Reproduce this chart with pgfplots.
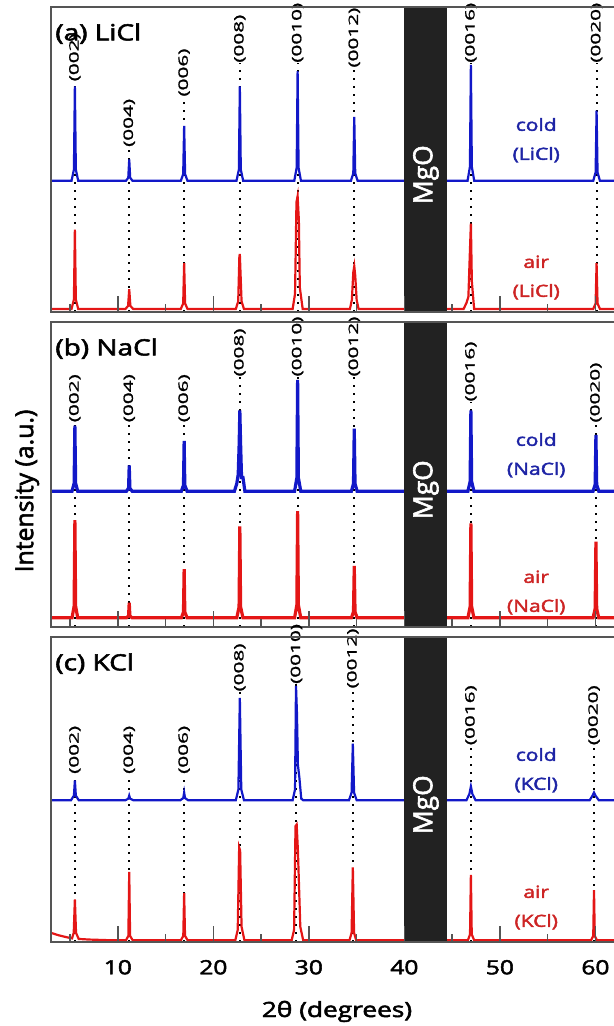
\documentclass[border=0pt]{standalone}
\usepackage{fontspec}
\setmainfont{Open Sans}[FakeBold=2.2]
\newfontfamily\plain{Open Sans}[FakeBold=1.2]
\usepackage{pgfplots}
\pgfplotsset{compat=1.18}
\definecolor{cblue}{RGB}{18,24,200}
\definecolor{cred}{RGB}{228,22,22}
\definecolor{tblue}{RGB}{30,36,165}
\definecolor{tred}{RGB}{205,36,36}
\definecolor{mgo}{RGB}{34,34,34}
\definecolor{frame}{RGB}{85,85,85}
\newcommand\wide[1]{\scalebox{1.25}[1]{#1}}
% dotted guide + rotated (00l) label
\newcommand\plab[3]{%
  \draw[black, line width=1pt, dash pattern=on 1.1pt off 2.9pt] (axis cs:#1,0) -- (axis cs:#1,#2);
  \node[rotate=90, anchor=west, inner sep=0pt, font=\plain\fontsize{6.5}{7}\selectfont] at (axis cs:#1,#2) {\scalebox{1.6}[1]{#3}};}
\newcommand\mgoband{%
  \fill[mgo] (axis cs:40,0) rectangle (axis cs:44.5,1);
  \node[rotate=90, text=white, font=\fontsize{13.2}{14}\selectfont] at (axis cs:42.25,0.45) {MgO};}
\newcommand\tags[2]{%
  \node[tblue, align=center, font=\fontsize{8.4}{14.5}\selectfont] at (axis cs:53.8,0.563) {\wide{cold}\\\wide{(#1)}};
  \node[tred, align=center, font=\fontsize{8.4}{14.5}\selectfont] at (axis cs:53.8,0.113) {\wide{air}\\\wide{(#1)}};
  \node[anchor=north west, inner sep=0pt, xshift=2pt, yshift=-8pt, font=\fontsize{11.2}{13}\selectfont] at (rel axis cs:0,1) {\wide{#2}};}

\pgfplotsset{xrd/.style={
  scale only axis, width=283.2pt, height=152.5pt,
  xmin=3, xmax=62.3, ymin=0, ymax=1,
  xtick={10,20,...,60}, minor xtick={5,15,...,55}, xtick pos=left, ytick=\empty,
  major tick length=8pt, minor tick length=4pt, tick align=inside,
  every tick/.append style={frame, line width=0.7pt},
  axis line style={frame, line width=0.8pt},
  axis on top, clip=false, anchor=south west,
  xticklabels=\empty,
}}

\begin{document}
\begin{tikzpicture}
% ---------------- (a) LiCl
\begin{axis}[xrd, at={(25.5pt,357pt)}]
\plab{5.50}{0.755}{(002)}
\plab{11.19}{0.54}{(004)}
\plab{16.94}{0.705}{(006)}
\plab{22.77}{0.816}{(008)}
\plab{28.82}{0.816}{(0010)}
\plab{34.75}{0.80}{(0012)}
\plab{46.96}{0.816}{(0016)}
\plab{60.12}{0.816}{(0020)}
\addplot[cblue, line width=1.1pt] coordinates {
(3,0.43) (5.15,0.43) (5.40,0.467) (5.50,0.74) (5.60,0.467) (5.85,0.43)
(10.84,0.43) (11.09,0.44) (11.19,0.50) (11.29,0.44) (11.54,0.43)
(16.59,0.43) (16.84,0.452) (16.94,0.61) (17.04,0.452) (17.29,0.43)
(22.42,0.43) (22.67,0.467) (22.77,0.74) (22.87,0.467) (23.12,0.43)
(28.47,0.43) (28.72,0.473) (28.82,0.79) (28.92,0.473) (29.17,0.43)
(34.40,0.43) (34.65,0.455) (34.75,0.64) (34.85,0.455) (35.10,0.43)
(46.61,0.43) (46.86,0.476) (46.96,0.81) (47.06,0.476) (47.31,0.43)
(59.77,0.43) (60.02,0.458) (60.12,0.66) (60.22,0.458) (60.47,0.43) (62.3,0.43)};
\addplot[cred, line width=1.1pt] coordinates {
(3,0.01) (5.15,0.01) (5.40,0.041) (5.50,0.27) (5.60,0.041) (5.85,0.01)
(10.8,0.01) (11.07,0.02) (11.19,0.075) (11.31,0.02) (11.6,0.01)
(16.59,0.01) (16.84,0.028) (16.94,0.16) (17.04,0.028) (17.29,0.01)
(22.35,0.01) (22.6,0.035) (22.72,0.18) (22.77,0.19) (22.85,0.12) (22.95,0.035) (23.2,0.01)
(28.3,0.01) (28.55,0.06) (28.7,0.36) (28.82,0.38) (28.95,0.30) (29.05,0.08) (29.35,0.01)
(34.3,0.01) (34.5,0.04) (34.65,0.13) (34.75,0.15) (34.85,0.12) (35.0,0.04) (35.2,0.01)
(46.2,0.01) (46.5,0.03) (46.7,0.05) (46.86,0.2) (46.96,0.29) (47.06,0.1) (47.3,0.01)
(59.77,0.01) (60.02,0.028) (60.12,0.16) (60.22,0.028) (60.47,0.01) (62.3,0.01)};
\mgoband
\tags{LiCl}{(a) LiCl}
\end{axis}
% ---------------- (b) NaCl
\begin{axis}[xrd, at={(25.5pt,199.5pt)}]
\plab{5.50}{0.67}{(002)}
\plab{11.19}{0.67}{(004)}
\plab{16.94}{0.67}{(006)}
\plab{22.77}{0.82}{(008)}
\plab{28.82}{0.82}{(0010)}
\plab{34.75}{0.82}{(0012)}
\plab{46.96}{0.738}{(0016)}
\plab{60.05}{0.669}{(0020)}
\addplot[cblue, line width=1.6pt] coordinates {
(3,0.445) (5.2,0.445) (5.42,0.471) (5.50,0.66) (5.58,0.471) (5.8,0.445)
(10.9,0.445) (11.12,0.455) (11.19,0.53) (11.26,0.455) (11.5,0.445)
(16.65,0.445) (16.87,0.465) (16.94,0.61) (17.01,0.465) (17.25,0.445)
(22.2,0.445) (22.45,0.47) (22.6,0.5) (22.7,0.6) (22.77,0.71) (22.85,0.6) (22.95,0.49) (23.1,0.49) (23.3,0.445)
(28.5,0.445) (28.74,0.489) (28.82,0.81) (28.9,0.489) (29.15,0.445)
(34.45,0.445) (34.67,0.47) (34.75,0.65) (34.83,0.47) (35.05,0.445)
(46.65,0.445) (46.88,0.477) (46.96,0.71) (47.04,0.477) (47.28,0.445)
(59.75,0.445) (59.97,0.467) (60.05,0.63) (60.13,0.467) (60.35,0.445) (62.3,0.445)};
\addplot[cred, line width=1.6pt] coordinates {
(3,0.03) (5.2,0.03) (5.42,0.068) (5.50,0.35) (5.58,0.068) (5.8,0.03)
(10.9,0.03) (11.12,0.036) (11.19,0.08) (11.26,0.036) (11.5,0.03)
(16.65,0.03) (16.87,0.049) (16.94,0.19) (17.01,0.049) (17.25,0.03)
(22.45,0.03) (22.69,0.066) (22.77,0.33) (22.85,0.066) (23.1,0.03)
(28.5,0.03) (28.74,0.072) (28.82,0.38) (28.9,0.072) (29.15,0.03)
(34.45,0.03) (34.67,0.05) (34.75,0.20) (34.83,0.05) (35.05,0.03)
(46.65,0.03) (46.88,0.067) (46.96,0.34) (47.04,0.067) (47.28,0.03)
(59.75,0.03) (59.97,0.06) (60.05,0.28) (60.13,0.06) (60.35,0.03) (62.3,0.03)};
\mgoband
\tags{NaCl}{(b) NaCl}
\end{axis}
% ---------------- (c) KCl
\begin{axis}[xrd, at={(25.5pt,42pt)},
  xticklabels={\wide{10},\wide{20},\wide{30},\wide{40},\wide{50},\wide{60}},
  xticklabel style={font=\fontsize{9.8}{11}\selectfont, yshift=-5.5pt}]
\plab{5.50}{0.55}{(002)}
\plab{11.19}{0.55}{(004)}
\plab{16.94}{0.55}{(006)}
\plab{22.77}{0.82}{(008)}
\plab{28.70}{0.845}{(0010)}
\plab{34.60}{0.83}{(0012)}
\plab{46.96}{0.644}{(0016)}
\plab{59.85}{0.644}{(0020)}
\addplot[cblue, line width=1.1pt] coordinates {
(3,0.465) (5.1,0.465) (5.4,0.48) (5.5,0.53) (5.6,0.48) (5.9,0.465)
(10.8,0.465) (11.1,0.47) (11.19,0.48) (11.28,0.47) (11.6,0.465)
(16.55,0.465) (16.85,0.472) (16.94,0.49) (17.03,0.472) (17.35,0.465)
(22.35,0.465) (22.62,0.5) (22.77,0.80) (22.92,0.5) (23.2,0.465)
(28.3,0.465) (28.55,0.5) (28.65,0.84) (28.75,0.75) (28.85,0.58) (29.0,0.54) (29.2,0.47) (29.4,0.465)
(34.2,0.465) (34.47,0.49) (34.6,0.65) (34.73,0.49) (35.0,0.465)
(46.5,0.465) (46.8,0.485) (46.96,0.51) (47.12,0.485) (47.45,0.465)
(59.4,0.465) (59.7,0.48) (59.85,0.49) (60.0,0.48) (60.35,0.465) (62.3,0.465)};
\addplot[cred, line width=1.1pt] coordinates {
(3,0.03) (3.8,0.022) (4.6,0.016) (5.2,0.012) (5.38,0.03) (5.5,0.14) (5.62,0.03) (5.9,0.01) (7,0.008) (9,0.006)
(10.85,0.006) (11.1,0.02) (11.19,0.23) (11.28,0.02) (11.55,0.006)
(16.6,0.006) (16.85,0.02) (16.94,0.16) (17.03,0.02) (17.3,0.006)
(22.3,0.006) (22.55,0.04) (22.7,0.31) (22.8,0.30) (22.95,0.05) (23.25,0.006)
(28.2,0.006) (28.45,0.04) (28.6,0.38) (28.72,0.385) (28.85,0.3) (28.95,0.2) (29.1,0.05) (29.4,0.006)
(34.25,0.006) (34.47,0.03) (34.6,0.245) (34.73,0.03) (34.95,0.006)
(46.65,0.006) (46.87,0.025) (46.96,0.22) (47.05,0.025) (47.3,0.006)
(59.55,0.006) (59.77,0.02) (59.85,0.17) (59.93,0.02) (60.15,0.006) (62.3,0.006)};
\mgoband
\tags{KCl}{(c) KCl}
\end{axis}
\node[rotate=90, font=\fontsize{12.4}{14}\selectfont] at (13.5pt,267.5pt) {Intensity (a.u.)};
\node[anchor=base, font=\fontsize{10.5}{12}\selectfont] at (168.5pt,4.5pt) {\wide{2θ (degrees)}};
\pgfresetboundingbox
\path[use as bounding box] (0,0) rectangle (307pt,513pt);
\end{tikzpicture}
\end{document}
